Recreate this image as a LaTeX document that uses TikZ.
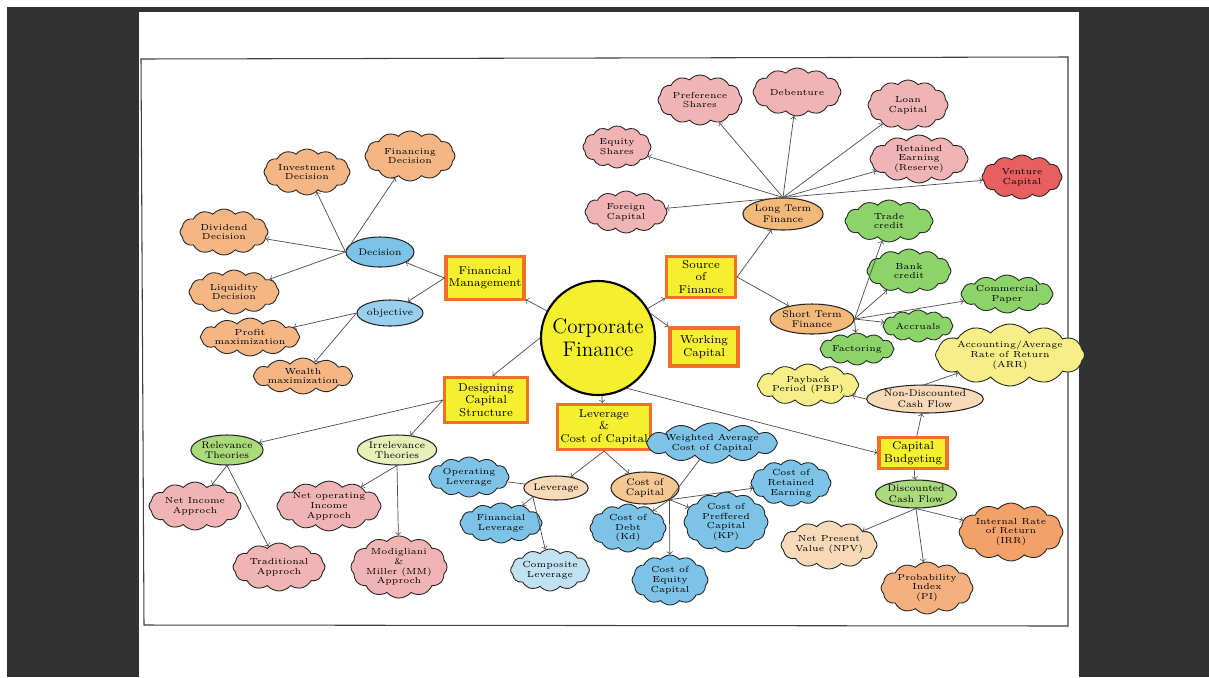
\documentclass[tikz,border=0pt]{standalone}
\usetikzlibrary{shapes.geometric,shapes.symbols}

\definecolor{dark}{RGB}{50,50,50}
\definecolor{peach}{RGB}{243,182,132}
\definecolor{rose}{RGB}{241,180,180}
\definecolor{redcl}{RGB}{232,95,95}
\definecolor{leaf}{RGB}{140,212,105}
\definecolor{sky}{RGB}{125,195,232}
\definecolor{paleblue}{RGB}{192,226,243}
\definecolor{lemon}{RGB}{248,238,135}
\definecolor{boxfill}{RGB}{245,240,45}
\definecolor{boxline}{RGB}{240,112,40}
\definecolor{tan}{RGB}{242,185,120}
\definecolor{sand}{RGB}{248,218,185}
\definecolor{mint}{RGB}{170,218,122}
\definecolor{cream}{RGB}{230,240,185}
\definecolor{apricot}{RGB}{242,162,104}

\tikzset{
  sz/.style 2 args={minimum width=#1*0.02cm, minimum height=#2*0.02cm},
  cl/.style={cloud, cloud puffs=12, cloud puff arc=100, cloud ignores aspect,
    draw=black!85, line width=0.5pt, inner sep=0pt, align=center,
    font=\fontsize{5}{5.6}\selectfont},
  oval/.style={ellipse, draw=black!85, line width=0.6pt, inner sep=0pt,
    align=center, font=\fontsize{5.5}{6}\selectfont},
  box/.style={rectangle, draw=boxline, line width=1.8pt, fill=boxfill,
    inner sep=1.5pt, align=center, font=\fontsize{6.5}{7}\selectfont},
  hub/.style={circle, draw=black, line width=1.2pt, fill=boxfill,
    minimum size=2.2cm, align=center, font=\fontsize{12}{13}\selectfont},
  arr/.style={->, black!70, line width=0.4pt},
  link/.style={black!70, line width=0.4pt},
}

\begin{document}
\begin{tikzpicture}[x=0.02cm,y=-0.02cm]
\useasboundingbox (0,0) rectangle (1209,677);
\fill[white] (0,0) rectangle (1209,677);
\fill[dark] (7,7) rectangle (1209,677);
\fill[white] (139,12) rectangle (1079,677);
\draw[black!75, line width=0.6pt] (141,59) -- (1068,57) -- (1068,626) -- (144,625) -- cycle;

% centre and main topics
\node[hub] (cf) at (598,338) {Corporate\\Finance};
\node[box, sz={78}{43}] (fm) at (485,278) {Financial\\Management};
\node[box, sz={69}{41}] (sof) at (701,277) {Source\\of\\Finance};
\node[box, sz={68}{38}] (wc) at (704,347) {Working\\Capital};
\node[box, sz={83}{45}] (dcs) at (486,400) {Designing\\Capital\\Structure};
\node[box, sz={82}{45}] (lcc) at (604,427) {Leverage\\\&\\Cost of Capital};
\node[box, sz={68}{31}] (cb) at (913,453) {Capital\\Budgeting};

% financial management
\node[oval, fill=sky, sz={68}{30}] (dec) at (380,252) {Decision};
\node[oval, fill=sky!80, sz={66}{26}] (obj) at (390,313) {objective};
\node[cl, fill=peach, sz={86}{46}] (inv) at (307,172) {Investment\\Decision};
\node[cl, fill=peach, sz={90}{50}] (fin) at (410,156) {Financing\\Decision};
\node[cl, fill=peach, sz={88}{46}] (div) at (224,232) {Dividend\\Decision};
\node[cl, fill=peach, sz={90}{44}] (liq) at (234,292) {Liquidity\\Decision};
\node[cl, fill=peach, sz={88}{38}] (pro) at (250,337) {Profit\\maximization};
\node[cl, fill=peach, sz={82}{36}] (wea) at (303,376) {Wealth\\maximization};

% source of finance
\node[oval, fill=tan, sz={72}{32}] (lt) at (783,214) {Long Term\\Finance};
\node[oval, fill=tan, sz={72}{30}] (st) at (812,319) {Short Term\\Finance};
\node[cl, fill=rose, sz={84}{50}] (pre) at (700,100) {Preference\\Shares};
\node[cl, fill=rose, sz={88}{48}] (deb) at (797,92) {Debenture};
\node[cl, fill=rose, sz={80}{50}] (loan) at (908,105) {Loan\\Capital};
\node[cl, fill=rose, sz={68}{42}] (equ) at (617,147) {Equity\\Shares};
\node[cl, fill=rose, sz={98}{48}] (ret) at (919,159) {Retained\\Earning\\(Reserve)};
\node[cl, fill=redcl, sz={80}{44}] (ven) at (1022,177) {Venture\\Capital};
\node[cl, fill=rose, sz={82}{42}] (for) at (626,212) {Foreign\\Capital};
\node[cl, fill=leaf, sz={88}{42}] (tra) at (889,221) {Trade\\credit};
\node[cl, fill=leaf, sz={84}{44}] (ban) at (909,271) {Bank\\credit};
\node[cl, fill=leaf, sz={92}{38}] (com) at (1007,294) {Commercial\\Paper};
\node[cl, fill=leaf, sz={70}{32}] (acc) at (918,326) {Accruals};
\node[cl, fill=leaf, sz={74}{32}] (fac) at (857,349) {Factoring};

% capital budgeting
\node[oval, fill=sand, sz={82}{28}] (ndcf) at (925,399) {Non-Discounted\\Cash Flow};
\node[oval, fill=mint, sz={72}{28}] (dcf) at (916,494) {Discounted\\Cash Flow};
\node[cl, fill=lemon, sz={110}{62}] (arr) at (1010,355) {Accounting/Average\\Rate of Return\\(ARR)};
\node[cl, fill=lemon, sz={88}{42}] (pbp) at (808,385) {Payback\\Period (PBP)};
\node[cl, fill=sand, sz={90}{48}] (npv) at (829,545) {Net Present\\Value (NPV)};
\node[cl, fill=apricot, sz={104}{58}] (irr) at (1011,532) {Internal Rate\\of Return\\(IRR)};
\node[cl, fill=apricot!85, sz={92}{52}] (pi) at (927,588) {Probability\\Index\\(PI)};

% capital structure
\node[oval, fill=mint, sz={70}{30}] (rel) at (227,450) {Relevance\\Theories};
\node[oval, fill=cream, sz={68}{30}] (irt) at (397,450) {Irrelevance\\Theories};
\node[cl, fill=rose, sz={92}{48}] (ni) at (195,506) {Net Income\\Approch};
\node[cl, fill=rose, sz={92}{48}] (trad) at (279,567) {Traditional\\Approch};
\node[cl, fill=rose, sz={90}{48}] (noi) at (329,506) {Net operating\\Income\\Approch};
\node[cl, fill=rose, sz={86}{58}] (mm) at (399,567) {Modigliani\\\&\\Miller (MM)\\Approch};

% leverage and cost of capital
\node[oval, fill=sand, sz={58}{24}] (lev) at (556,488) {Leverage};
\node[oval, fill=tan!80, sz={68}{32}] (coc) at (645,488) {Cost of\\Capital};
\node[cl, fill=sky, sz={80}{40}] (opl) at (469,477) {Operating\\Leverage};
\node[cl, fill=sky, sz={82}{40}] (fil) at (501,523) {Financial\\Leverage};
\node[cl, fill=paleblue, sz={76}{42}] (col) at (550,570) {Composite\\Leverage};
\node[cl, fill=sky, sz={106}{40}] (wacc) at (712,443) {Weighted Average\\Cost of Capital};
\node[cl, fill=sky, sz={80}{46}] (cre) at (791,483) {Cost of\\Retained\\Earning};
\node[cl, fill=sky, sz={76}{48}] (cod) at (628,528) {Cost of\\Debt\\(Kd)};
\node[cl, fill=sky, sz={84}{54}] (cop) at (726,522) {Cost of\\Preffered\\Capital\\(KP)};
\node[cl, fill=sky, sz={76}{50}] (coe) at (670,580) {Cost of\\Equity\\Capital};

% connectors
\draw[arr] (cf) -- (fm);
\draw[arr] (cf) -- (sof);
\draw[arr] (cf.25) -- (wc.150);
\draw[arr] (cf.west) -- (dcs.75);
\draw[arr] (cf) -- (lcc);
\draw[arr] (cf.-60) -- (cb.west);

\draw[arr] (fm.west) -- (dec);
\draw[arr] (fm.west) -- (obj);
\foreach \t in {inv,fin,div,liq} \draw[arr] (dec.west) -- (\t);
\foreach \t in {pro,wea} \draw[arr] (obj.west) -- (\t);

\draw[arr] (sof.east) -- (lt);
\draw[arr] (sof.east) -- (st);
\foreach \t in {pre,deb,loan,equ,ret,ven,for} \draw[arr] (lt.north) -- (\t);
\foreach \t in {tra,ban,com,acc,fac} \draw[arr] (st.east) -- (\t);

\draw[arr] (dcs.west) -- (rel);
\draw[arr] (dcs.west) -- (irt);
\draw[arr] (rel.south) -- (ni);
\draw[arr] (rel.south) -- (trad);
\draw[arr] (irt.south) -- (noi);
\draw[arr] (irt.south) -- (mm);

\draw[arr] (lcc.south) -- (lev);
\draw[arr] (lcc.south) -- (coc);
\draw[link] (opl) -- (lev);
\draw[arr] (lev.south west) -- (fil);
\draw[arr] (lev.south west) -- (col);
\draw[link] (coc.south east) -- (wacc);
\foreach \t in {cre,cod,cop,coe} \draw[arr] (coc.south east) -- (\t);

\draw[arr] (cb) -- (ndcf);
\draw[arr] (cb) -- (dcf);
\draw[arr] (ndcf.west) -- (pbp);
\draw[arr] (ndcf.north) -- (arr);
\foreach \t in {npv,irr,pi} \draw[arr] (dcf.south) -- (\t);
\end{tikzpicture}
\end{document}
